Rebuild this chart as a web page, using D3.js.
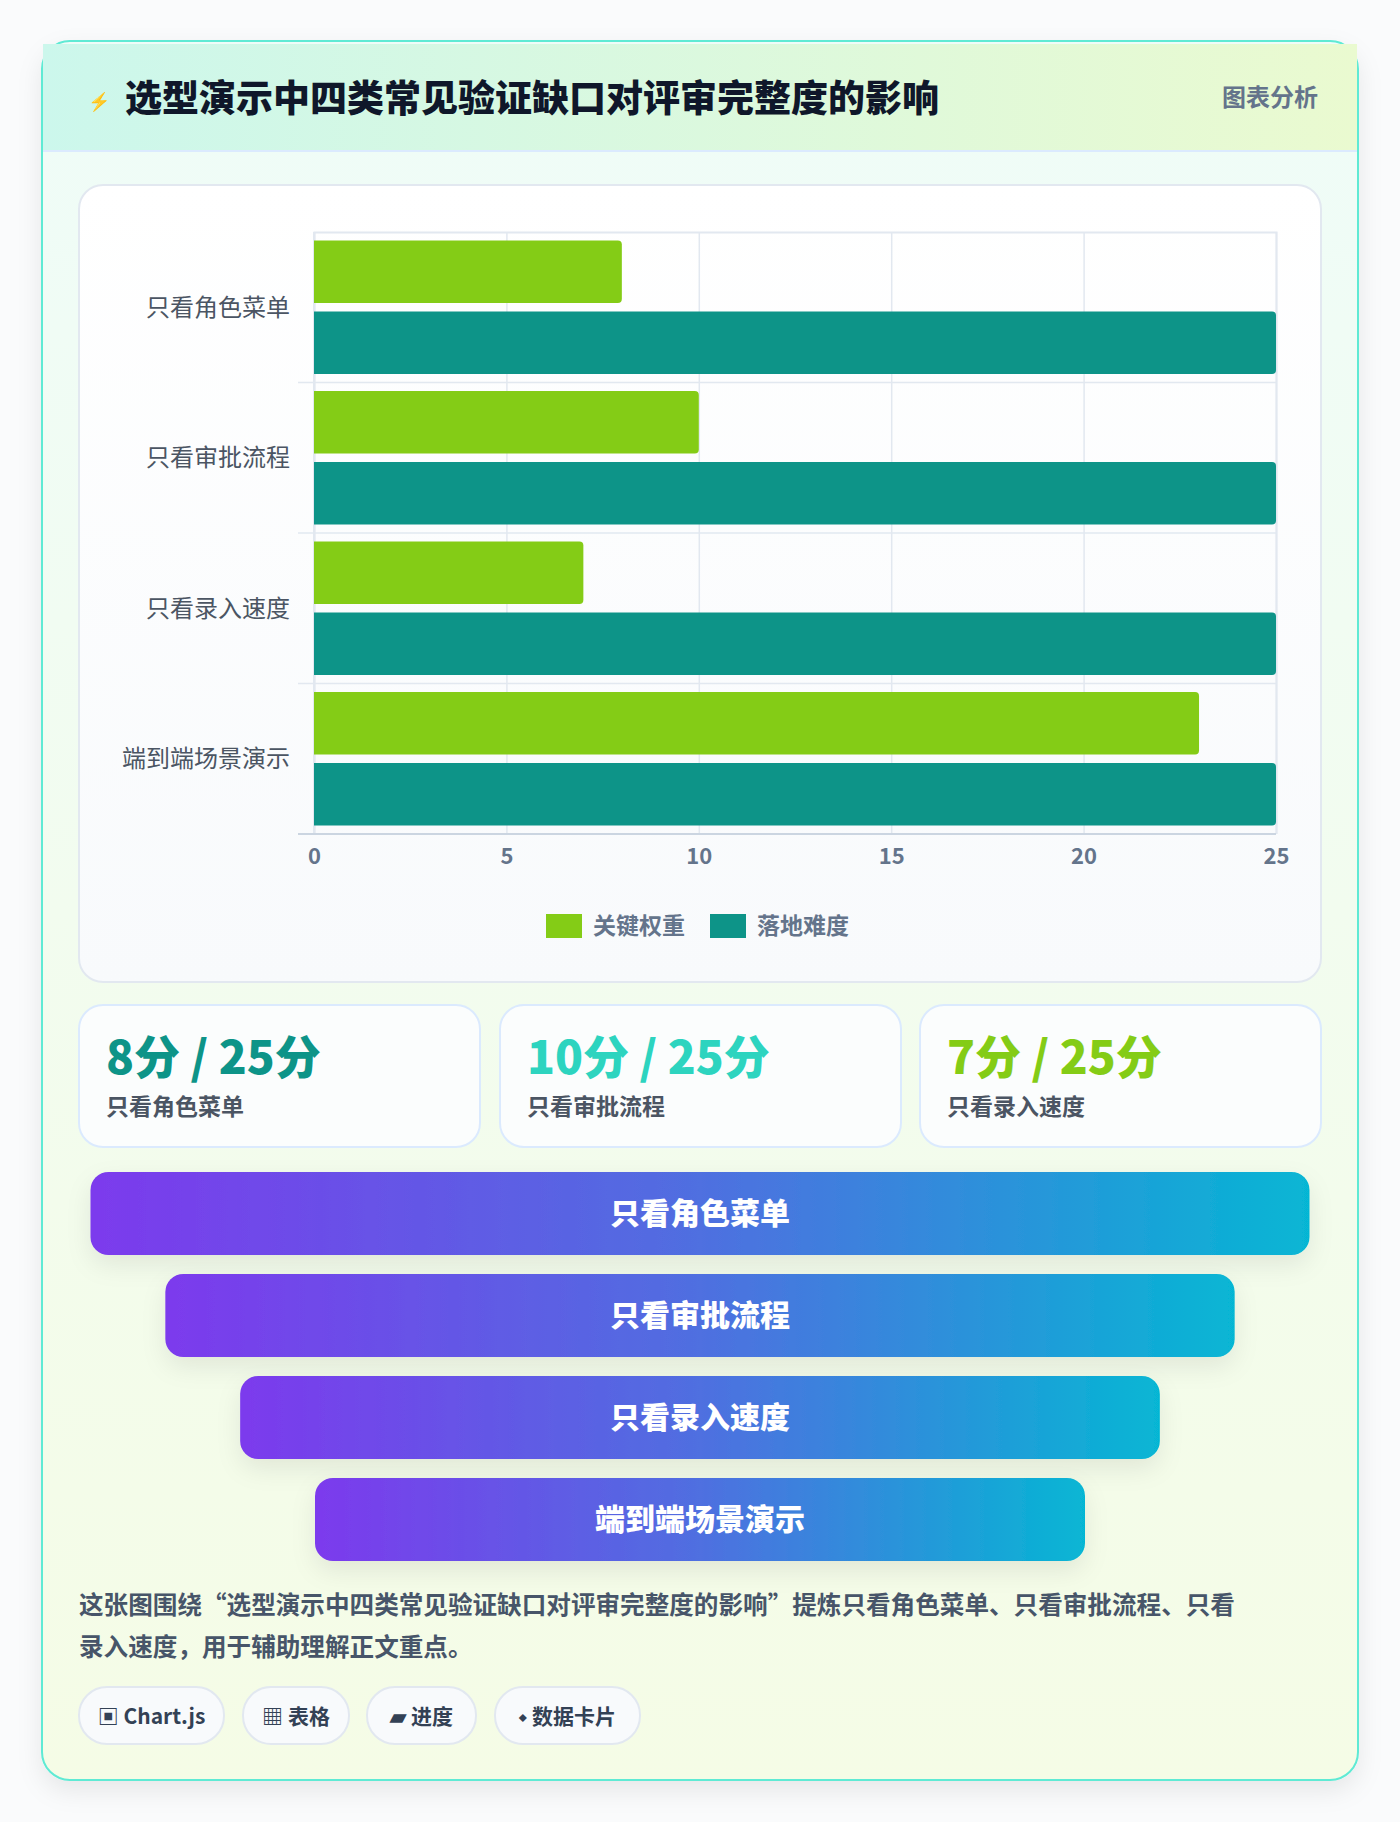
<!DOCTYPE html><html><head><meta charset="utf-8">
<script src="https://cdn.jsdelivr.net/npm/d3@7"></script>
<style>body{margin:0;background:#fafbfc;font-family:"Noto Sans CJK SC","Noto Sans",sans-serif}</style></head><body>
<svg id="c" width="1400" height="1822"></svg>
<script>
const categories=["只看角色菜单","只看审批流程","只看录入速度","端到端场景演示"];
const keyWeight=[8,10,7,23];
const difficulty=[25,25,25,25];
const seriesNames=["关键权重","落地难度"];
const xTicks=[0,5,10,15,20,25];
const stats=[{v:"8分 / 25分",l:"只看角色菜单",c:"#0d9488"},{v:"10分 / 25分",l:"只看审批流程",c:"#2dd4bf"},{v:"7分 / 25分",l:"只看录入速度",c:"#84cc16"}];
const pills=["▣ Chart.js","▦ 表格","▰ 进度","⬩ 数据卡片"];
const title="选型演示中四类常见验证缺口对评审完整度的影响";
const F='"Noto Sans CJK SC",sans-serif';
const svg=d3.select("#c");
const defs=svg.append("defs");
const f=defs.append("filter").attr("id","sh").attr("x","-20%").attr("y","-20%").attr("width","140%").attr("height","160%");
f.append("feDropShadow").attr("dx",0).attr("dy",10).attr("stdDeviation",12).attr("flood-color","#000").attr("flood-opacity",0.08);
const bg=defs.append("linearGradient").attr("id","bg").attr("x1",0).attr("y1",0).attr("x2",0).attr("y2",1);
bg.append("stop").attr("offset",0).attr("stop-color","#effcf8");bg.append("stop").attr("offset",1).attr("stop-color","#f5fce6");
const hg=defs.append("linearGradient").attr("id","hg");
hg.append("stop").attr("offset",0).attr("stop-color","#ccf7ec");hg.append("stop").attr("offset",1).attr("stop-color","#eafad0");
const fg=defs.append("linearGradient").attr("id","fg");
fg.append("stop").attr("offset",0).attr("stop-color","#7c3aed");fg.append("stop").attr("offset",0.5).attr("stop-color","#4f6fe0");fg.append("stop").attr("offset",1).attr("stop-color","#06b6d4");
const pg=defs.append("linearGradient").attr("id","pg").attr("x1",0).attr("y1",0).attr("x2",0).attr("y2",1);
pg.append("stop").attr("offset",0).attr("stop-color","#ffffff");pg.append("stop").attr("offset",1).attr("stop-color","#f8fafc");
// card
svg.append("rect").attr("x",42).attr("y",41).attr("width",1316).attr("height",1739).attr("rx",28).attr("fill","url(#bg)").attr("stroke","#5eead4").attr("stroke-width",2).attr("filter","url(#sh)");
svg.append("path").attr("d","M43,44 H1357 V151 H43 Z").attr("fill","url(#hg)");
svg.append("line").attr("x1",43).attr("x2",1357).attr("y1",151).attr("y2",151).attr("stroke","#dbeafe").attr("stroke-width",2);
svg.append("text").attr("x",88).attr("y",108).attr("font-size",18).attr("fill","#2563eb").text("⚡").attr("font-family",F);
svg.append("text").attr("x",125).attr("y",112).attr("font-size",37).attr("font-weight",900).attr("fill","#0f172a").attr("font-family",F).text(title);
svg.append("text").attr("x",1318).attr("y",106).attr("text-anchor","end").attr("font-size",24).attr("font-weight",700).attr("fill","#64748b").attr("font-family",F).text("图表分析");
// chart panel
svg.append("rect").attr("x",79).attr("y",185).attr("width",1242).attr("height",797).attr("rx",24).attr("fill","url(#pg)").attr("stroke","#e2e8f0").attr("stroke-width",2);
const x=d3.scaleLinear().domain([0,25]).range([314,1276]);
const y=d3.scaleBand().domain(categories).range([232,834]);
const inner=d3.scaleBand().domain(seriesNames).range([0,y.bandwidth()]).paddingInner(0.12).paddingOuter(0.12);
const g=svg.append("g");
g.append("g").attr("transform","translate(0,232)").call(d3.axisTop(x).tickValues(xTicks).tickSize(-602).tickFormat(""))
 .call(a=>{a.selectAll("line").attr("stroke","#e2e8f0").attr("stroke-width",1.5);a.select(".domain").attr("stroke","#e2e8f0").attr("stroke-width",2);});
g.append("g").attr("transform","translate(314,0)").call(d3.axisLeft(y).tickSize(-962).tickSizeOuter(0).tickFormat(""))
 .call(a=>{a.selectAll("line").remove();a.select(".domain").remove();});
g.selectAll(".hl").data(categories.slice(1)).join("line").attr("x1",298).attr("x2",1276).attr("y1",d=>y(d)).attr("y2",d=>y(d)).attr("stroke","#e2e8f0").attr("stroke-width",1.5);
g.append("line").attr("x1",314).attr("x2",314).attr("y1",232).attr("y2",834).attr("stroke","#e2e8f0").attr("stroke-width",2);
g.append("line").attr("x1",298).attr("x2",1276).attr("y1",834).attr("y2",834).attr("stroke","#cbd5e1").attr("stroke-width",2);
const cols=["#84cc16","#0d9488"];
[keyWeight,difficulty].forEach((arr,si)=>{
 g.selectAll(".b"+si).data(arr).join("path").attr("fill",cols[si]).attr("d",(d,i)=>{
  const y0=y(categories[i])+inner(seriesNames[si]),h=inner.bandwidth(),x0=x(0),x1=x(d),r=4;
  return `M${x0},${y0}H${x1-r}Q${x1},${y0} ${x1},${y0+r}V${y0+h-r}Q${x1},${y0+h} ${x1-r},${y0+h}H${x0}Z`;});
});
const xa=svg.append("g").attr("transform","translate(0,834)").call(d3.axisBottom(x).tickValues(xTicks).tickSize(0).tickPadding(14));
xa.select(".domain").remove();
xa.selectAll("text").attr("font-size",22).attr("font-weight",700).attr("fill","#64748b").attr("font-family",F);
const ya=svg.append("g").attr("transform","translate(293,0)").call(d3.axisLeft(y).tickSize(0));
ya.select(".domain").remove();
ya.selectAll("text").attr("font-size",24).attr("fill","#4b5563").attr("font-family",F).attr("dy","0.35em");
const lg=svg.append("g");
[[546,seriesNames[0]],[710,seriesNames[1]]].forEach(([lx,t],i)=>{
 lg.append("rect").attr("x",lx).attr("y",914).attr("width",36).attr("height",24).attr("fill",cols[i]);
 lg.append("text").attr("x",lx+47).attr("y",934).attr("font-size",23).attr("font-weight",700).attr("fill","#64748b").attr("font-family",F).text(t);
});
// stats
const sx=[79,500,920];
stats.forEach((s,i)=>{
 svg.append("rect").attr("x",sx[i]).attr("y",1005).attr("width",401).attr("height",142).attr("rx",24).attr("fill","#fbfdfd").attr("stroke","#dbeafe").attr("stroke-width",2);
 svg.append("text").attr("x",sx[i]+27).attr("y",1074).attr("font-size",46).attr("font-weight",900).attr("fill",s.c).attr("font-family",F).text(s.v);
 svg.append("text").attr("x",sx[i]+27).attr("y",1115).attr("font-size",23).attr("font-weight",700).attr("fill","#4b5563").attr("font-family",F).text(s.l);
});
// funnel
const fw=d3.scaleLinear().domain([0,3]).range([1219,770]);
categories.forEach((c,i)=>{
 const w=fw(i),fy=1172+i*102;
 svg.append("rect").attr("x",700-w/2).attr("y",fy).attr("width",w).attr("height",83).attr("rx",18).attr("fill","url(#fg)").attr("filter","url(#sh)");
 svg.append("text").attr("x",700).attr("y",fy+52).attr("text-anchor","middle").attr("font-size",30).attr("font-weight",900).attr("fill","#fff").attr("font-family",F).text(c);
});
const desc=["这张图围绕“选型演示中四类常见验证缺口对评审完整度的影响”提炼只看角色菜单、只看审批流程、只看","录入速度，用于辅助理解正文重点。"];
desc.forEach((t,i)=>svg.append("text").attr("x",79).attr("y",1614+i*42).attr("font-size",24.6).attr("font-weight",700).attr("fill","#475569").attr("font-family",F).text(t));
const px=[79,243,367,495],pw=[145,106,109,145];
pills.forEach((p,i)=>{
 svg.append("rect").attr("x",px[i]).attr("y",1687).attr("width",pw[i]).attr("height",57).attr("rx",28).attr("fill","#f8fafc").attr("stroke","#e2e8f0").attr("stroke-width",2);
 svg.append("text").attr("x",px[i]+pw[i]/2).attr("y",1724).attr("text-anchor","middle").attr("font-size",21).attr("font-weight",700).attr("fill","#334155").attr("font-family",F).text(p);
});
</script></body></html>
